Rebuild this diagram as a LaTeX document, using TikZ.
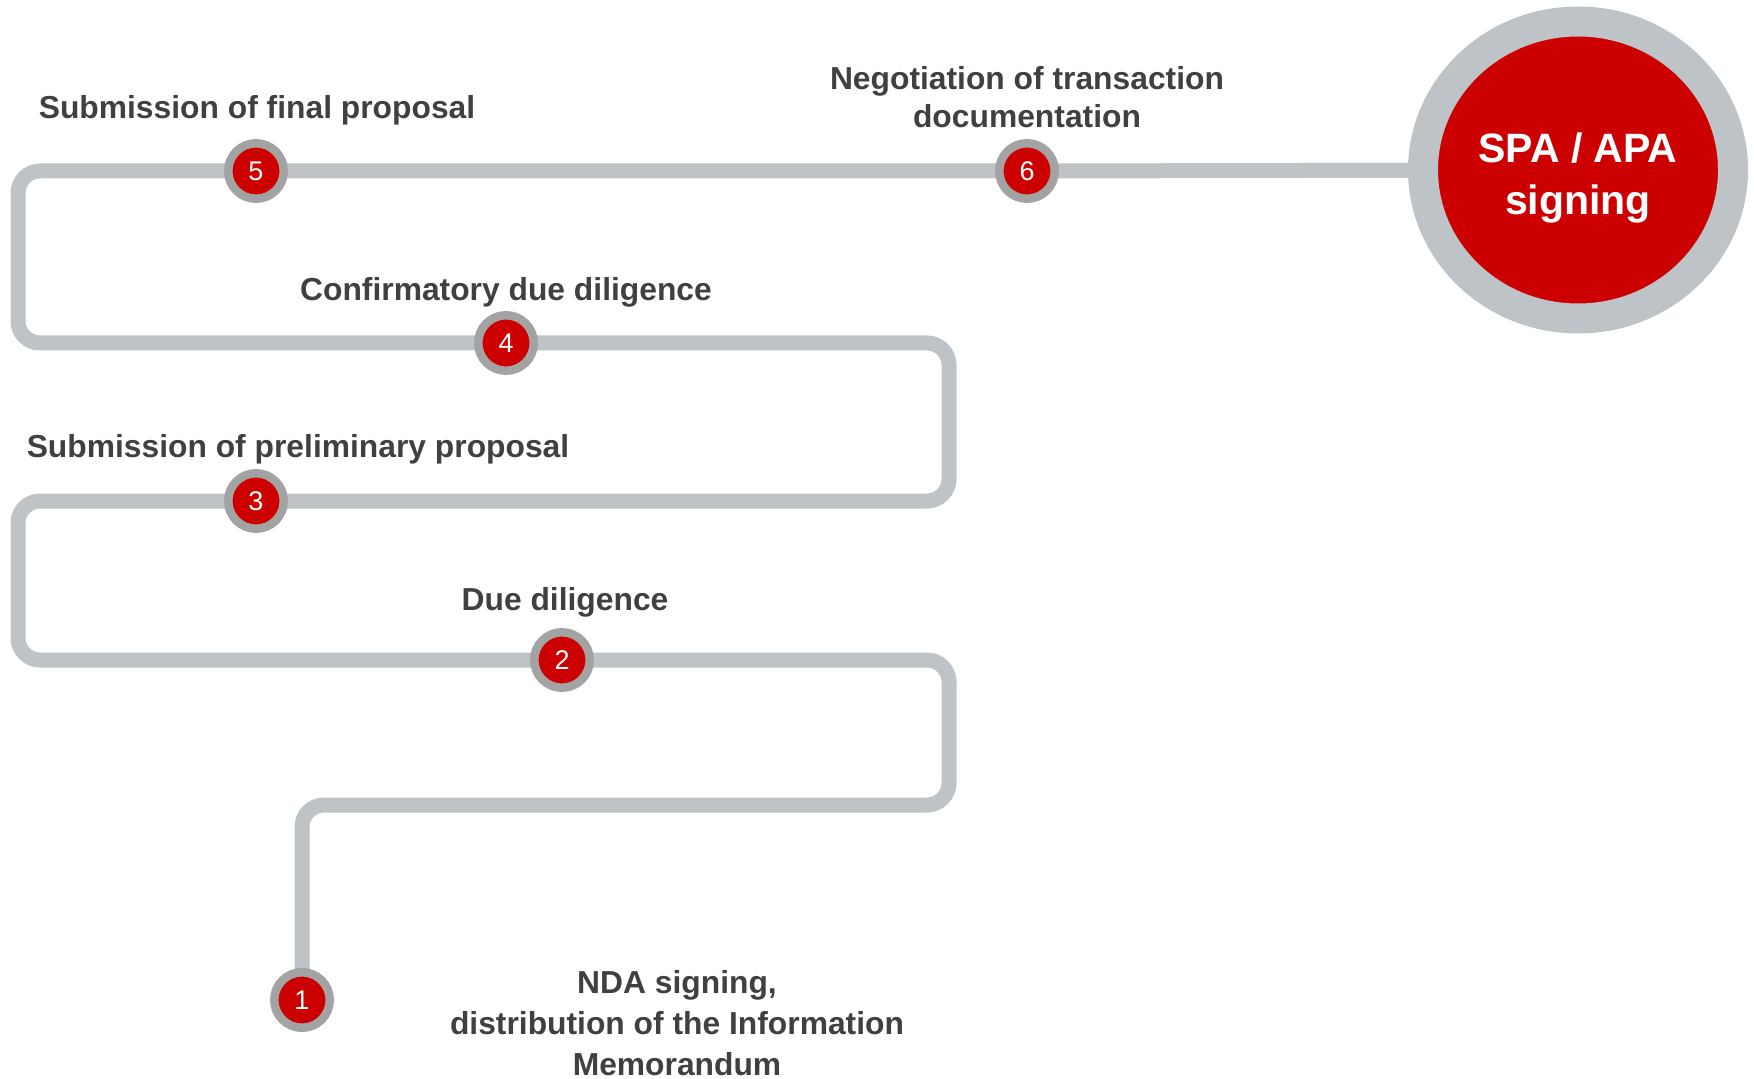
\documentclass[tikz,border=0pt]{standalone}
\usepackage{fontspec}
\setmainfont{Liberation Sans}
\usetikzlibrary{shapes.geometric,backgrounds}
\definecolor{track}{HTML}{BEC3C7}
\definecolor{ring}{HTML}{A3A3A3}
\definecolor{signred}{HTML}{CC0000}
\definecolor{ink}{HTML}{404040}

\begin{document}
\begin{tikzpicture}[x=0.5pt,y=-0.5pt,text=ink,
  stepdot/.style={circle,fill=signred,draw=ring,line width=4.25pt,
    minimum size=27.75pt,inner sep=0pt,text=white,font=\fontsize{13.5}{15}\selectfont},
  label/.style={font=\bfseries\fontsize{15.9}{19}\selectfont,align=center},
  goal/.style={ellipse,fill=signred,draw=track,line width=15pt,
    minimum width=155pt,minimum height=148.5pt,inner sep=0pt},
  goaltext/.style={text=white,align=center,font=\bfseries\fontsize{20.5}{26}\selectfont},
  trackline/.style={track,line width=7.5pt,rounded corners=11pt}]
  \useasboundingbox (0,0) rectangle (1754,1079);

  \node[goal] (sign) at (1578,170) {};
  \node[goaltext] (signtext) at (1578,178) {SPA / APA\\signing};

  \node[stepdot] (n1) at (302,1000) {1};
  \node[stepdot] (n2) at (562,660) {2};
  \node[stepdot] (n3) at (256,501) {3};
  \node[stepdot] (n4) at (506,343) {4};
  \node[stepdot] (n5) at (256,171) {5};
  \node[stepdot] (n6) at (1027,171) {6};

  % winding track under the steps
  \begin{scope}[on background layer]
    \draw[trackline] (n1.center) -- (302,805) -- (949,805) -- (949,660)
      -- (n2.center) -- (18,660) -- (18,501) -- (n3.center)
      -- (949,501) -- (949,343) -- (n4.center) -- (18,343) -- (18,171)
      -- (n5.center) -- (n6.center) -- (sign);
  \end{scope}

  \node[label] (l1) at (677,1023)
    {NDA signing,\\[1.5pt]distribution of the Information\\[1.5pt]Memorandum};
  \node[label] (l2) at (565,602) {Due diligence};
  \node[label] (l3) at (298,449) {Submission of preliminary proposal};
  \node[label] (l4) at (506,292) {Confirmatory due diligence};
  \node[label] (l5) at (257,110) {Submission of final proposal};
  \node[label] (l6) at (1027,97) {Negotiation of transaction\\documentation};
\end{tikzpicture}
\end{document}
